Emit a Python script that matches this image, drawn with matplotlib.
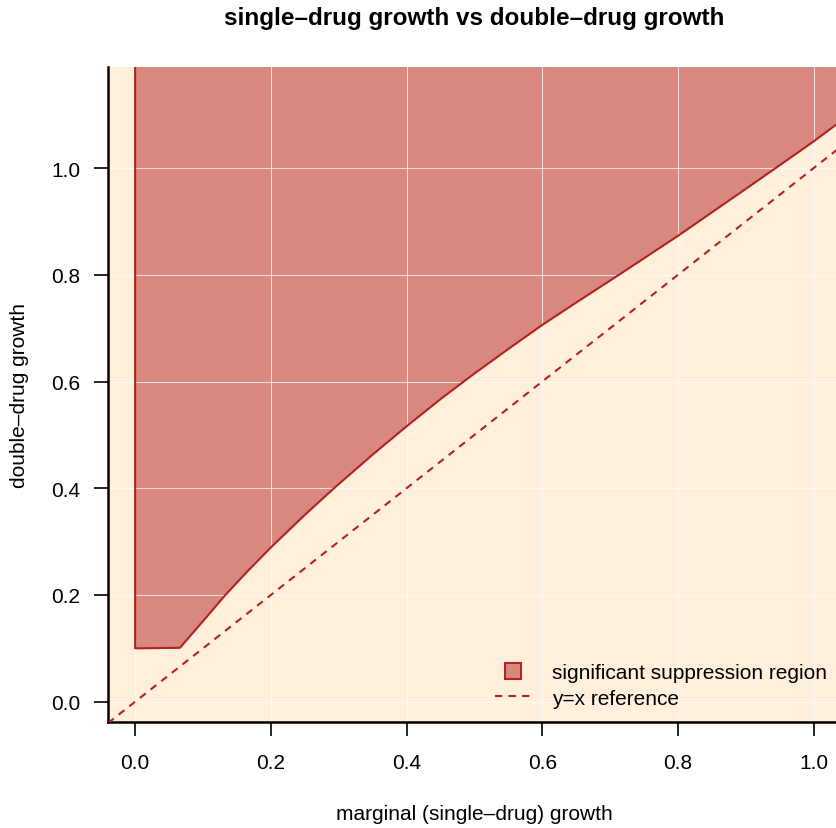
import matplotlib
matplotlib.use("Agg")
import matplotlib.pyplot as plt
from matplotlib.lines import Line2D
import numpy as np

plt.rcParams['font.family'] = ['Liberation Sans', 'DejaVu Sans']

# Lower edge of the significant-suppression region
boundary_x = [0.0, 0.066, 0.1, 0.133, 0.166, 0.2, 0.25, 0.293, 0.35, 0.4, 0.45, 0.5,
              0.55, 0.6, 0.65, 0.713, 0.75, 0.8, 0.85, 0.9, 0.944, 1.0, 1.04, 1.06]
boundary_y = [0.1, 0.101, 0.151, 0.200, 0.245, 0.289, 0.350, 0.400, 0.463, 0.516, 0.567, 0.615,
              0.661, 0.706, 0.748, 0.800, 0.831, 0.873, 0.917, 0.961, 1.000, 1.050, 1.088, 1.106]
region_top = 1.35

x_ticks = [0.0, 0.2, 0.4, 0.6, 0.8, 1.0]
y_ticks = [0.0, 0.2, 0.4, 0.6, 0.8, 1.0]
x_lim = (-0.04, 1.04)
y_lim = (-0.0386, 1.190)

title = "single\u2013drug growth vs double\u2013drug growth"
x_label = "marginal (single\u2013drug) growth"
y_label = "double\u2013drug growth"
legend_labels = ["significant suppression region", "y=x reference"]

bg = "#FFEFDB"
edge = "#B22222"
fill_rgba = (178/255, 34/255, 34/255, 0.5)
dash = (0, (3.5, 3.0))

fig = plt.figure(figsize=(8.36, 8.29), dpi=100)
ax = fig.add_axes([108/836, 1 - 723.3/829, 732.8/836, (723.3 - 67.7)/829])
ax.set_facecolor(bg)
ax.set_xlim(*x_lim)
ax.set_ylim(*y_lim)

# region polygon: up the left edge, along the boundary, closed above the plot
poly_x = [boundary_x[0]] + boundary_x + [boundary_x[-1]]
poly_y = [region_top] + boundary_y + [region_top]
ax.fill(poly_x, poly_y, facecolor=fill_rgba, edgecolor="none", zorder=2)

# grid over the shaded region
for t in x_ticks:
    ax.axvline(t, color="white", linewidth=0.8, alpha=0.7, zorder=2.5)
for t in y_ticks:
    ax.axhline(t, color="white", linewidth=0.8, alpha=0.7, zorder=2.5)

# region outline above the grid
ax.plot(poly_x, poly_y, color=edge, linewidth=1.5, zorder=3)

# y = x reference line across the full range
ref = np.array(x_lim)
ax.plot(ref, ref, color=edge, linewidth=1.5, linestyle=dash, zorder=3)

ax.set_xticks(x_ticks)
ax.set_yticks(y_ticks)
ax.set_xticklabels([f"{v:.1f}" for v in x_ticks])
ax.set_yticklabels([f"{v:.1f}" for v in y_ticks])
ax.tick_params(direction="out", length=10, width=1.2, labelsize=15, colors="black")
ax.tick_params(axis="x", pad=12)
ax.tick_params(axis="y", pad=10)

for side in ("top", "right"):
    ax.spines[side].set_visible(False)
for side in ("left", "bottom"):
    ax.spines[side].set_linewidth(1.8)
    ax.spines[side].set_color("black")

fig.text(474.5/836, 1 - 18/829, title, ha="center", va="center",
         fontsize=17.5, fontweight="bold")
fig.text(474.5/836, 1 - 815/829, x_label, ha="center", va="center", fontsize=15)
fig.text(20/836, 1 - 395.5/829, y_label, ha="center", va="center", rotation=90,
         fontsize=15)

handles = [
    Line2D([], [], linestyle="none", marker="s", markersize=12,
           markerfacecolor=fill_rgba, markeredgecolor=edge, markeredgewidth=1.5),
    Line2D([], [], color=edge, linewidth=1.5, linestyle=dash),
]
ax.legend(handles, legend_labels, loc="upper left",
          bbox_to_anchor=(495/836, 1 - 664/829), bbox_transform=fig.transFigure,
          frameon=False, fontsize=15, handlelength=1.7, handletextpad=1.05,
          labelspacing=0.32, borderpad=0, borderaxespad=0)

fig.savefig("out.png", dpi=100, facecolor="white")
